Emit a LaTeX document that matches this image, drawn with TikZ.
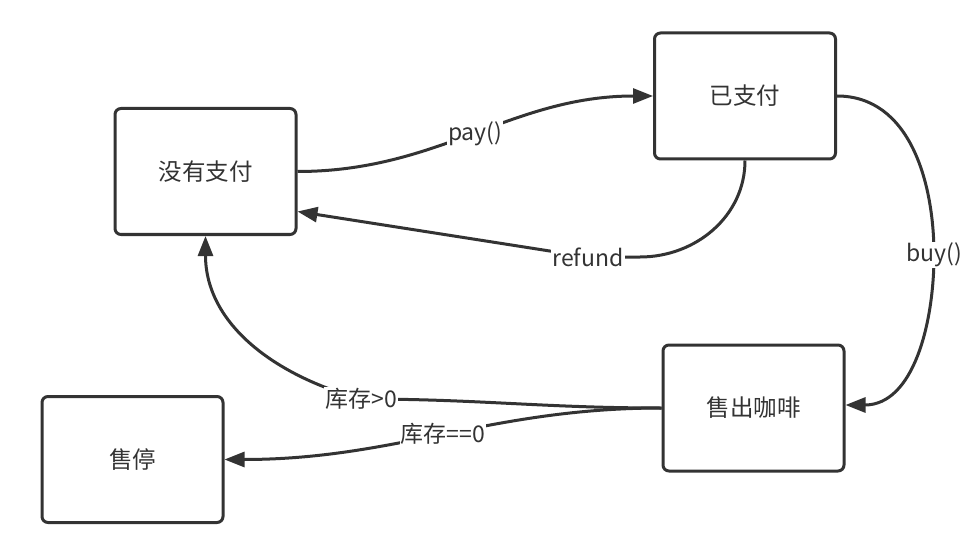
\documentclass[tikz,border=0pt]{standalone}
\usepackage{fontspec}
\setmainfont{Noto Sans CJK SC}
\usetikzlibrary{arrows.meta}
\definecolor{ink}{HTML}{333333}
\newcommand{\stateFont}[0]{\fontsize{23.5}{28}\selectfont}
\newcommand{\edgeFont}[0]{\fontsize{23}{27}\selectfont}

\begin{document}
\begin{tikzpicture}[x=1pt, y=-1pt]
  \tikzset{state/.style={draw=ink, line width=3pt, rounded corners=6pt, minimum width=181pt, minimum height=126pt, text=ink, font=\stateFont},
           edge/.style={draw=ink, line width=3pt, -{Triangle[length=20pt,width=15pt]}},
           guard/.style={fill=white, text=ink, font=\edgeFont, inner sep=1pt}}
  \useasboundingbox (0,0) rectangle (977,548);
  \node[state](nopay) at (205.5,171.5){没有支付};
  \node[state](paid) at (745,96){已支付};
  \node[state](sold) at (753.5,408){售出咖啡};
  \node[state](halt) at (132.5,459.5){售停};
  \draw[edge] (nopay.east) to[out=0,in=180] node[guard]{pay()} (paid.west);
  \draw[edge] (paid.south) to[out=-90,in=0] (640,257) -- (588,257) node[guard]{refund} -- ([yshift=-40pt]nopay.east);
  \draw[edge] (paid.east) to[out=0,in=90] (934,255) node[guard]{buy()} to[out=-90,in=0] ([yshift=3pt]sold.east);
  \draw[edge] (sold.west) to[out=180,in=0] (361,399) node[guard]{库存>0} to[out=165,in=-90] (nopay.south);
  \draw[edge] (sold.west) to[out=180,in=0] node[guard]{库存==0} (halt.east);
\end{tikzpicture}
\end{document}
